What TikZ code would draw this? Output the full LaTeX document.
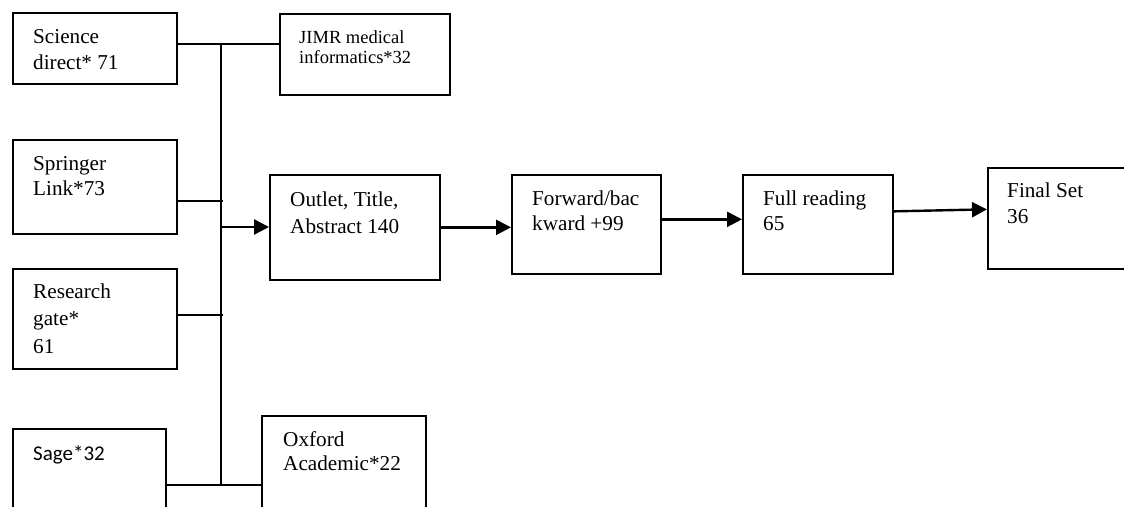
\documentclass[tikz,border=0pt]{standalone}
\usepackage{fontspec}
\setmainfont{Liberation Serif}
\newfontfamily\calibfont{Carlito}
\usetikzlibrary{arrows.meta}

\tikzset{
  box/.style={draw, line width=1.7pt, anchor=north west, inner sep=0pt},
  txt/.style={anchor=base west, align=left, inner sep=0pt, font=\fontsize{21.2}{26.5}\selectfont},
  link/.style={line width=1.6pt},
  flow/.style={line width=2.4pt, -{Triangle[length=15pt,width=15pt]}}
}

\begin{document}
\begin{tikzpicture}[x=1pt, y=-1pt]
        \clip (0,0) rectangle (1124,506);

        % Sorgenti (base = ultima riga)
        \node[box, minimum width=164pt, minimum height=71pt] (sci) at (12,12) {};
        \node[txt] (sci-t) at ([shift={(21,57.5)}]sci.north west) {Science\\direct* 71};
        \node[box, minimum width=164pt, minimum height=94pt] (spr) at (12,139) {};
        \node[txt, font=\fontsize{21.2}{25}\selectfont] (spr-t) at ([shift={(21,56)}]spr.north west) {Springer\\Link*73};
        \node[box, minimum width=164pt, minimum height=100pt] (rg) at (12,268) {};
        \node[txt, font=\fontsize{21.2}{27.5}\selectfont] (rg-t) at ([shift={(21,85)}]rg.north west) {Research\\gate*\\61};
        \node[box, minimum width=153pt, minimum height=100pt] (sage) at (12,428) {};
        \node[txt, font=\fontsize{21}{26}\calibfont] (sage-t) at ([shift={(21,32)}]sage.north west) {Sage*32};
        \node[box, minimum width=170pt, minimum height=81pt] (jimr) at (279,13) {};
        \node[txt, font=\fontsize{18.5}{20}\selectfont] (jimr-t) at ([shift={(20,50)}]jimr.north west) {JIMR medical\\informatics*32};
        \node[box, minimum width=164pt, minimum height=110pt] (oxf) at (261,415) {};
        \node[txt, font=\fontsize{21.2}{24.5}\selectfont] (oxf-t) at ([shift={(22,55.5)}]oxf.north west) {Oxford\\Academic*22};

        % Fasi
        \node[box, minimum width=170pt, minimum height=105pt] (out) at (269,174) {};
        \node[txt, font=\fontsize{21.2}{27}\selectfont] (out-t) at ([shift={(21,59)}]out.north west) {Outlet, Title,\\Abstract 140};
        \node[box, minimum width=149pt, minimum height=99pt] (fwd) at (511,174) {};
        \node[txt, font=\fontsize{21.2}{25}\selectfont] (fwd-t) at ([shift={(21,56)}]fwd.north west) {Forward/bac\\kward +99};
        \node[box, minimum width=150pt, minimum height=99pt] (full) at (742,174) {};
        \node[txt, font=\fontsize{21.2}{25}\selectfont] (full-t) at ([shift={(21,56)}]full.north west) {Full reading\\65};
        \node[box, minimum width=150pt, minimum height=101pt] (fin) at (987,167) {};
        \node[txt, font=\fontsize{21.2}{26}\selectfont] (fin-t) at ([shift={(20,56)}]fin.north west) {Final Set\\36};

        % Collettore
        \coordinate (top) at (221,44);
        \coordinate (bot) at (221,485);
        \coordinate (t-spr) at (223,201);
        \coordinate (t-rg) at (223,315);
        \coordinate (merge) at (221,227);
        \draw[link] (sci.east |- top) -- (top) -- (jimr.west |- top);
        \draw[link] (top) -- (bot);
        \draw[link] (spr.east |- t-spr) -- (t-spr);
        \draw[link] (rg.east |- t-rg) -- (t-rg);
        \draw[link] (sage.east |- bot) -- (bot) -- (oxf.west |- bot);

        % Frecce
        \draw[flow] (merge) -- (out.west |- merge);
        \draw[flow] (out.east) -- (out.east -| fwd.west);
        \draw[flow] ([yshift=5pt]fwd.east) -- ([yshift=5pt]fwd.east -| full.west);
        \draw[flow] ([yshift=13pt]full.east) -- ([yshift=9pt]fin.west);
\end{tikzpicture}
\end{document}
